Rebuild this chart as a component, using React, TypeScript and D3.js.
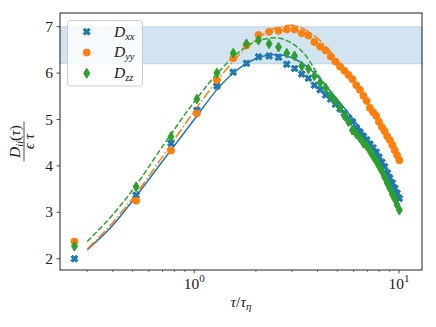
import React from "react";
import * as d3 from "d3";

// sampled lag times tau / tau_eta
const tau = [
  0.26, 0.52, 0.77, 1.03, 1.29, 1.55, 1.8, 2.06, 2.32, 2.58, 2.83, 3.09, 3.35,
  3.61, 3.86, 4.12, 4.38, 4.64, 4.89, 5.15, 5.41, 5.67, 5.92, 6.18, 6.44, 6.7,
  6.95, 7.21, 7.47, 7.73, 7.98, 8.24, 8.5, 8.76, 9.01, 9.27, 9.53, 9.79, 10.04,
];

const dxx = [
  2.0, 3.37, 4.49, 5.2, 5.72, 6.02, 6.21, 6.35, 6.37, 6.34, 6.19, 6.1, 5.98,
  5.89, 5.74, 5.64, 5.53, 5.44, 5.33, 5.23, 5.14, 5.03, 4.95, 4.82, 4.73, 4.64,
  4.56, 4.47, 4.39, 4.3, 4.19, 4.08, 3.98, 3.85, 3.74, 3.63, 3.52, 3.41, 3.3,
];

const dyy = [
  2.37, 3.25, 4.33, 5.13, 5.85, 6.32, 6.6, 6.82, 6.89, 6.91, 6.94, 6.94, 6.86,
  6.81, 6.67, 6.57, 6.49, 6.36, 6.25, 6.14, 6.05, 5.96, 5.87, 5.74, 5.64, 5.51,
  5.4, 5.25, 5.16, 5.08, 4.95, 4.84, 4.75, 4.64, 4.56, 4.45, 4.34, 4.23, 4.12,
];

const dzz = [
  2.27, 3.55, 4.63, 5.44, 6.0, 6.43, 6.63, 6.71, 6.63, 6.56, 6.43, 6.37, 6.15,
  6.09, 5.94, 5.79, 5.68, 5.51, 5.4, 5.25, 5.08, 4.95, 4.77, 4.69, 4.6, 4.49,
  4.43, 4.32, 4.21, 4.11, 4.0, 3.89, 3.76, 3.63, 3.52, 3.39, 3.29, 3.16, 3.05,
];

// model curves
const tauFit = [0.3, 0.4, 0.5, 0.7, 1.0, 1.3, 1.6, 2.0, 2.5, 3.0, 3.5, 4.0, 5.0, 6.0, 7.0, 8.0, 9.0, 10.0];
const fitXX = [2.19, 2.72, 3.25, 4.1, 5.0, 5.66, 6.05, 6.31, 6.4, 6.33, 6.16, 5.93, 5.43, 4.99, 4.59, 4.2, 3.8, 3.38];
const fitYY = [2.21, 2.78, 3.3, 4.2, 5.18, 5.85, 6.32, 6.72, 6.97, 7.03, 6.93, 6.75, 6.28, 5.82, 5.38, 4.96, 4.56, 4.16];
const fitZZ = [2.37, 2.95, 3.48, 4.42, 5.38, 6.0, 6.4, 6.68, 6.76, 6.64, 6.38, 5.98, 5.38, 4.82, 4.42, 3.98, 3.55, 3.1];

const band = [6.2, 7.0];
const yTicks = [2, 3, 4, 5, 6, 7];
const xMajor = [1, 10];
const xMinor = [0.3, 0.4, 0.5, 0.6, 0.7, 0.8, 0.9, 2, 3, 4, 5, 6, 7, 8, 9];
const seriesNames = ["xx", "yy", "zz"];

const C0 = "#1f77b4";
const C1 = "#ff7f0e";
const C2 = "#2ca02c";
const FONT = "Liberation Serif, Times New Roman, DejaVu Serif, serif";

const W = 436;
const H = 327;
const left = 60;
const right = 422;
const top = 13;
const bottom = 270;

const ms = 7;
const xMarker =
  "M" +
  [[-1, -2], [0, -1], [1, -2], [2, -1], [1, 0], [2, 1], [1, 2], [0, 1], [-1, 2], [-2, 1], [-1, 0], [-2, -1]]
    .map((p) => `${(p[0] * ms) / 4},${(p[1] * ms) / 4}`)
    .join("L") +
  "Z";
const dh = 0.707 * ms;
const dw = 0.6 * dh;
const diamond = `M0,${-dh}L${dw},0L0,${dh}L${-dw},0Z`;

const Marker = ({ kind, x, y }) => {
  if (kind === 0)
    return <path d={xMarker} transform={`translate(${x},${y})`} fill={C0} stroke={C0} strokeWidth={1} />;
  if (kind === 1) return <circle cx={x} cy={y} r={ms / 2} fill={C1} stroke={C1} strokeWidth={1} />;
  return <path d={diamond} transform={`translate(${x},${y})`} fill={C2} stroke={C2} strokeWidth={1} />;
};

const App = () => {
  const x = d3.scaleLog().domain([0.221, 12.95]).range([left, right]);
  const y = d3.scaleLinear().domain([1.757, 7.295]).range([bottom, top]);

  const line = d3
    .line<number>()
    .x((d, i) => x(tauFit[i]))
    .y((d) => y(d))
    .curve(d3.curveMonotoneX);

  const fits = [
    { vals: fitXX, color: C0, dash: undefined },
    { vals: fitYY, color: C1, dash: "9.6,2.4,1.5,2.4" },
    { vals: fitZZ, color: C2, dash: "5.55,2.4" },
  ];
  const points = [dxx, dyy, dzz];

  return (
    <svg
      width={W}
      height={H}
      style={{ position: "absolute", left: 0, top: 0, background: "#fff", fontFamily: FONT }}
    >
      <defs>
        <clipPath id="plot">
          <rect x={left} y={top} width={right - left} height={bottom - top} />
        </clipPath>
      </defs>

      {/* shaded band */}
      <rect
        x={left}
        y={y(band[1])}
        width={right - left}
        height={y(band[0]) - y(band[1])}
        fill={C0}
        fillOpacity={0.2}
        stroke={C0}
        strokeOpacity={0.2}
        strokeWidth={1}
      />

      <g clipPath="url(#plot)">
        {fits.map((f, i) => (
          <path
            key={i}
            d={line(f.vals)}
            fill="none"
            stroke={f.color}
            strokeWidth={1.5}
            strokeDasharray={f.dash}
          />
        ))}
        {points.map((s, k) =>
          s.map((v, i) => <Marker key={k + "-" + i} kind={k} x={x(tau[i])} y={y(v)} />)
        )}
      </g>

      {/* axes frame */}
      <rect x={left} y={top} width={right - left} height={bottom - top} fill="none" stroke="#222" strokeWidth={1} />

      {/* y ticks */}
      {yTicks.map((t) => (
        <g key={t}>
          <line x1={left - 3.5} x2={left} y1={y(t)} y2={y(t)} stroke="#222" strokeWidth={0.8} />
          <text x={left - 7} y={y(t) + 5} textAnchor="end" fontSize={15.5} fill="#222">
            {t}
          </text>
        </g>
      ))}

      {/* x ticks */}
      {xMinor.map((t) => (
        <line key={t} x1={x(t)} x2={x(t)} y1={bottom} y2={bottom + 2} stroke="#222" strokeWidth={0.6} />
      ))}
      {xMajor.map((t, i) => (
        <g key={t}>
          <line x1={x(t)} x2={x(t)} y1={bottom} y2={bottom + 3.5} stroke="#222" strokeWidth={0.8} />
          <text x={x(t)} y={289} textAnchor="middle" fontSize={15.5} fill="#222">
            10
            <tspan dy={-7} fontSize={11}>
              {i}
            </tspan>
          </text>
        </g>
      ))}

      {/* x label */}
      <text x={(left + right) / 2} y={307} textAnchor="middle" fontSize={15.5} fontStyle="italic" fill="#222">
        τ<tspan fontStyle="normal">/</tspan>τ
        <tspan dy={3} fontSize={11}>
          η
        </tspan>
      </text>

      {/* y label */}
      <g transform={`translate(24,${(top + bottom) / 2}) rotate(-90)`} fill="#222">
        <text x={0} y={-4} textAnchor="middle" fontSize={15.5} fontStyle="italic">
          D
          <tspan dy={3} fontSize={10.5}>
            ii
          </tspan>
          <tspan dy={-3} fontStyle="normal">
            (
          </tspan>
          τ<tspan fontStyle="normal">)</tspan>
        </text>
        <line x1={-20} x2={20} y1={0} y2={0} stroke="#222" strokeWidth={0.8} />
        <text x={0} y={10} textAnchor="middle" fontSize={15.5} fontStyle="italic">
          ϵ τ
        </text>
      </g>

      {/* legend */}
      <g>
        <rect x={67.5} y={20.5} width={75} height={65.5} rx={3} fill="#fff" fillOpacity={0.8} stroke="#ccc" strokeWidth={1} />
        {seriesNames.map((n, i) => (
          <g key={n}>
            <Marker kind={i} x={86.7} y={31.7 + i * 20.8} />
            <text x={114} y={36.5 + i * 20.8} fontSize={15.5} fontStyle="italic" fill="#222">
              D
              <tspan dy={3} fontSize={10.5}>
                {n}
              </tspan>
            </text>
          </g>
        ))}
      </g>
    </svg>
  );
};

export default App;
